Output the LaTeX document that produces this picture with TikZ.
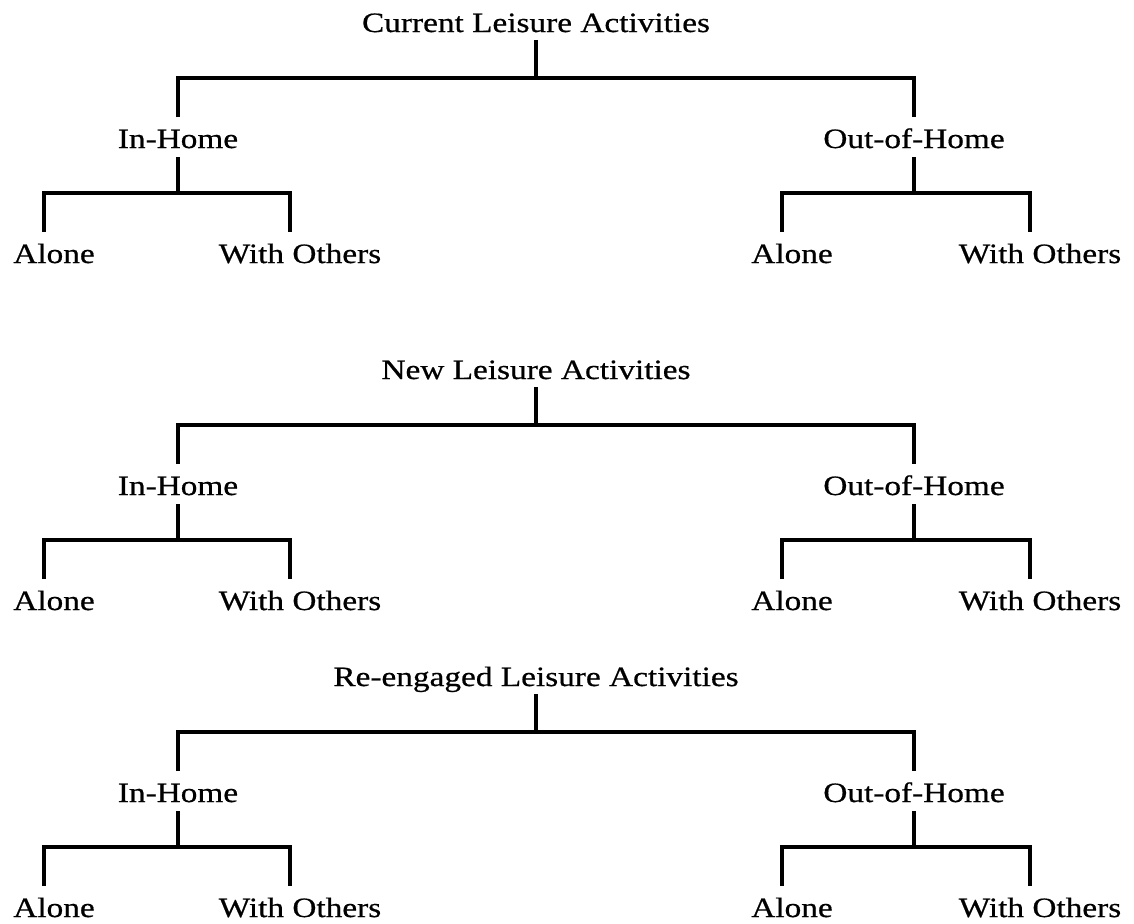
\documentclass[tikz,border=0pt]{standalone}
\usepackage{fontspec}
\setmainfont{Liberation Serif}[FakeStretch=1.19,FakeBold=0.6]
\begin{document}
\begin{tikzpicture}[x=0.5pt,y=-0.5pt,
  lbl/.style={font=\fontsize{14pt}{16pt}\selectfont, inner sep=0pt, anchor=base, text depth=0pt},
  conn/.style={line width=2pt}]
\fill[white] (0,0) rectangle (1134,923);
\useasboundingbox (0,0) rectangle (1134,923);
\foreach \t/\title/\dy in {1/Current Leisure Activities/0, 2/New Leisure Activities/347, 3/Re-engaged Leisure Activities/654} {
  \node[lbl] (r\t) at (536,{32+\dy}) {\title};
  \node[lbl] (in\t) at (178,{148+\dy}) {In-Home};
  \node[lbl] (out\t) at (914,{148+\dy}) {Out-of-Home};
  \node[lbl] (ia\t) at (54,{263+\dy}) {Alone};
  \node[lbl] (iw\t) at (300,{263+\dy}) {With Others};
  \node[lbl] (oa\t) at (792,{263+\dy}) {Alone};
  \node[lbl] (ow\t) at (1040,{263+\dy}) {With Others};
  \draw[conn] ([yshift=-4pt]r\t.base) -- ++(0,38) coordinate (rj\t);
  \draw[conn] ([yshift=15.5pt]in\t.base) |- (rj\t) -| ([yshift=15.5pt]out\t.base);
  \draw[conn] ([yshift=-4.5pt]in\t.base) -- ++(0,36) coordinate (ij\t);
  \draw[conn] ([xshift=-5pt,yshift=15.5pt]ia\t.base) |- (ij\t) -| ([xshift=-5pt,yshift=15.5pt]iw\t.base);
  \draw[conn] ([yshift=-4.5pt]out\t.base) -- ++(0,36) coordinate (oj\t);
  \draw[conn] ([xshift=-5pt,yshift=15.5pt]oa\t.base) |- (oj\t) -| ([xshift=-5pt,yshift=15.5pt]ow\t.base);
}
\end{tikzpicture}
\end{document}
